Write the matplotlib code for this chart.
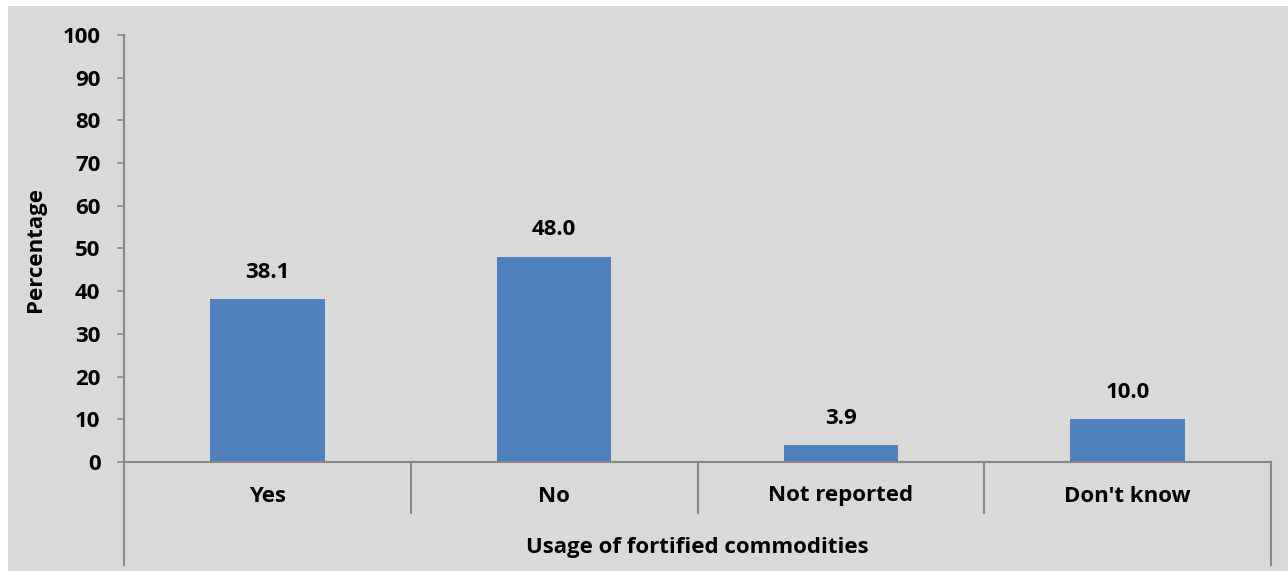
import matplotlib
matplotlib.use("Agg")
from matplotlib import pyplot as plt
from matplotlib.patches import Rectangle
import numpy as np

categories = ["Yes", "No", "Not reported", "Don't know"]
values = [38.1, 48.0, 3.9, 10.0]
y_ticks = [0, 10, 20, 30, 40, 50, 60, 70, 80, 90, 100]

plt.rcParams["font.family"] = ["Open Sans", "DejaVu Sans"]
plt.rcParams["font.weight"] = "bold"
fs = 16

W, H = 1288, 571
bg = "#D9D9D9"
line_col = "#898989"

fig = plt.figure(figsize=(W / 100, H / 100), dpi=100)
fig.patch.set_facecolor("white")
fig.patches.append(Rectangle((8 / W, 0), 1 - 8 / W, (H - 6) / H,
                             transform=fig.transFigure, facecolor=bg,
                             edgecolor="none", zorder=-1))

ax_h = 462 - 35
ax = fig.add_axes([124 / W, (H - 462) / H, (1271 - 124) / W, ax_h / H])
ax.set_facecolor(bg)

x = np.arange(len(categories))
ax.bar(x, values, width=0.4, color="#4F81BD", zorder=2)
for xi, v in zip(x, values):
    ax.annotate(f"{v:.1f}", (xi, v), xytext=(0, 12), textcoords="offset points",
                ha="center", va="bottom", fontsize=fs, fontweight="bold")

ax.set_xlim(-0.5, len(categories) - 0.5)
ax.set_ylim(0, 100)
ax.set_yticks(y_ticks)
ax.tick_params(axis="y", length=5, width=1.2, color=line_col, pad=12,
               labelsize=fs)
ax.set_xticks([])

for s in ["top", "right"]:
    ax.spines[s].set_visible(False)
for s in ["left", "bottom"]:
    ax.spines[s].set_color(line_col)
    ax.spines[s].set_linewidth(1.5)

# category group lines below the axis
tr = ax.get_xaxis_transform()
for b in np.arange(0.5, len(categories) - 1, 1.0):
    ax.plot([b, b], [0, -51 / ax_h], color=line_col, lw=1.5,
            transform=tr, clip_on=False)
for b in [-0.5, len(categories) - 0.5]:
    ax.plot([b, b], [0, -103 / ax_h], color=line_col, lw=1.5,
            transform=tr, clip_on=False)

for xi, c in zip(x, categories):
    ax.text(xi, -34 / ax_h, c, transform=tr, ha="center", va="center",
            fontsize=fs, fontweight="bold")
ax.text(0.5, -86 / ax_h, "Usage of fortified commodities", transform=ax.transAxes,
        ha="center", va="center", fontsize=fs, fontweight="bold")

fig.text(36 / W, (H - 250) / H, "Percentage", rotation=90, ha="center",
         va="center", fontsize=fs, fontweight="bold")

fig.savefig("out.png", dpi=100)
